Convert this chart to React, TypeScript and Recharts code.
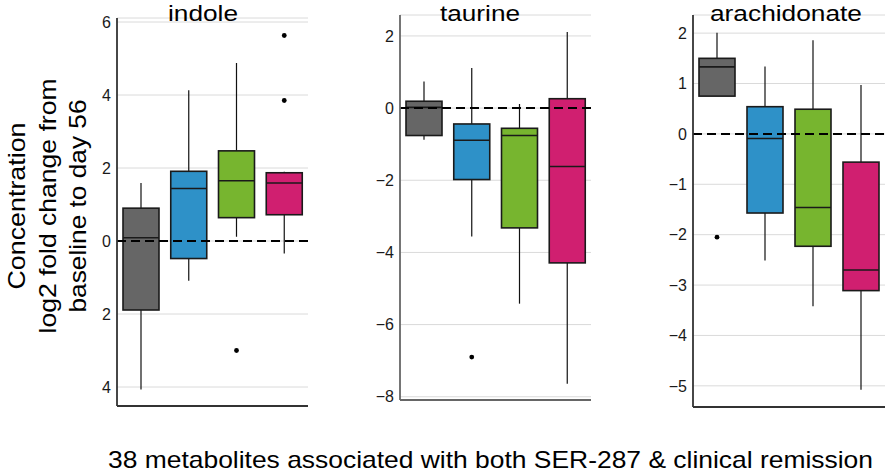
import React from 'react';
import { ComposedChart, Bar, XAxis, YAxis, CartesianGrid, ReferenceLine } from 'recharts';

const groups = ['A', 'B', 'C', 'D'];
const groupColors = ['#666666', '#2e91c8', '#77b52f', '#d01f70'];

// indole
const indoleLow = [-4.07, -1.09, 0.12, -0.34];
const indoleQ1 = [-1.89, -0.48, 0.64, 0.72];
const indoleMed = [0.09, 1.44, 1.65, 1.59];
const indoleQ3 = [0.9, 1.91, 2.47, 1.87];
const indoleHigh = [1.59, 4.13, 4.88, 1.9];
const indoleOut = [[], [], [-3.0], [5.63, 3.85]];
const indoleTicks = [-4, -2, 0, 2, 4, 6];

// taurine
const taurineLow = [-0.88, -3.56, -5.42, -7.64];
const taurineQ1 = [-0.76, -1.98, -3.32, -4.29];
const taurineMed = [0.02, -0.89, -0.76, -1.62];
const taurineQ3 = [0.19, -0.44, -0.56, 0.26];
const taurineHigh = [0.74, 1.11, 0.11, 2.11];
const taurineOut = [[], [-6.9], [], []];
const taurineTicks = [-8, -6, -4, -2, 0, 2];

// arachidonate
const arachLow = [0.75, -2.51, -3.42, -5.08];
const arachQ1 = [0.75, -1.57, -2.23, -3.11];
const arachMed = [1.33, -0.09, -1.46, -2.7];
const arachQ3 = [1.5, 0.54, 0.49, -0.56];
const arachHigh = [2.01, 1.34, 1.86, 0.97];
const arachOut = [[-2.05], [], [], []];
const arachTicks = [-5, -4, -3, -2, -1, 0, 1, 2];

const font = '"Liberation Sans", Arial, sans-serif';

const buildRows = (low: number[], q1: number[], med: number[], q3: number[], high: number[], out: number[][]) =>
    groups.map((g, i) => ({
        group: g,
        box: [q1[i], q3[i]],
        low: low[i],
        q1: q1[i],
        med: med[i],
        q3: q3[i],
        high: high[i],
        out: out[i],
        color: groupColors[i],
    }));

const minusFmt = (v: number) => (v < 0 ? '\u2212' + Math.abs(v) : String(v));
const absFmt = (v: number) => String(Math.abs(v));

// box + whiskers + median + outliers, scaled from the bar geometry
const BoxShape = (props: any) => {
    const { x, y, width, height, payload } = props;
    const { low, q1, med, q3, high, out, color } = payload;
    const top = Math.min(y, y + height);
    const h = Math.abs(height);
    const k = h / (q3 - q1);
    const py = (v: number) => top + (q3 - v) * k;
    const cx = x + width / 2;
    return (
        <g>
            <line x1={cx} x2={cx} y1={py(high)} y2={py(q3)} stroke="#111" strokeWidth={1.2} />
            <line x1={cx} x2={cx} y1={py(q1)} y2={py(low)} stroke="#111" strokeWidth={1.2} />
            <rect x={x} y={top} width={width} height={h} fill={color} stroke="#1a1a1a" strokeWidth={1.6} />
            <line x1={x} x2={x + width} y1={py(med)} y2={py(med)} stroke="#1a1a1a" strokeWidth={1.6} />
            {out.map((v: number, i: number) => (
                <circle key={i} cx={cx} cy={py(v)} r={2.4} fill="#000" />
            ))}
        </g>
    );
};

interface PanelProps {
    data: any[];
    ticks: number[];
    domain: [number, number];
    fmt: (v: number) => string;
    plotLeft: number;
    plotRight: number;
    top: number;
    bottom: number;
    axisColor: string;
}

const Y_W = 40;

const Panel: React.FC<PanelProps> = ({ data, ticks, domain, fmt, plotLeft, plotRight, top, bottom, axisColor }) => {
    const w = plotRight - plotLeft + Y_W + 4;
    const h = bottom + 1 + 14;
    return (
        <div style={{ position: 'absolute', left: plotLeft - Y_W, top: 0 }}>
            <ComposedChart width={w} height={h} data={data} margin={{ top, right: 4, left: 0, bottom: 14 }}>
                <CartesianGrid vertical={false} stroke="#dadada" strokeWidth={1} />
                <XAxis
                    dataKey="group"
                    type="category"
                    tick={false}
                    tickLine={false}
                    height={1}
                    axisLine={{ stroke: axisColor, strokeWidth: 1.8 }}
                />
                <YAxis
                    type="number"
                    domain={domain}
                    ticks={ticks}
                    interval={0}
                    allowDataOverflow
                    width={Y_W}
                    tickLine={false}
                    tickSize={4}
                    tickMargin={2}
                    tickFormatter={fmt}
                    tick={{ fill: '#1a1a1a', fontSize: 16, fontFamily: font }}
                    axisLine={{ stroke: axisColor, strokeWidth: 1.8 }}
                />
                <Bar dataKey="box" barSize={36} shape={<BoxShape />} isAnimationActive={false} />
                <ReferenceLine y={0} stroke="#000" strokeWidth={2} strokeDasharray="9 5" />
            </ComposedChart>
        </div>
    );
};

const App: React.FC = () => {
    return (
        <div style={{ position: 'absolute', left: 0, top: 0, width: 889, height: 476, background: '#fff', fontFamily: font }}>
            <Panel
                data={buildRows(indoleLow, indoleQ1, indoleMed, indoleQ3, indoleHigh, indoleOut)}
                ticks={indoleTicks}
                domain={[-4.52, 6.11]}
                fmt={absFmt}
                plotLeft={117}
                plotRight={308}
                top={18}
                bottom={406}
                axisColor="#333"
            />
            <Panel
                data={buildRows(taurineLow, taurineQ1, taurineMed, taurineQ3, taurineHigh, taurineOut)}
                ticks={taurineTicks}
                domain={[-8.09, 2.58]}
                fmt={minusFmt}
                plotLeft={400}
                plotRight={591}
                top={15}
                bottom={400}
                axisColor="#666"
            />
            <Panel
                data={buildRows(arachLow, arachQ1, arachMed, arachQ3, arachHigh, arachOut)}
                ticks={arachTicks}
                domain={[-5.42, 2.36]}
                fmt={minusFmt}
                plotLeft={693}
                plotRight={885}
                top={15}
                bottom={407}
                axisColor="#333"
            />
            <svg width={889} height={476} style={{ position: 'absolute', left: 0, top: 0, pointerEvents: 'none' }}>
                <g fontFamily={font} fill="#000" fontSize={24}>
                    <text x={203} y={21} fontSize={22} textAnchor="middle" textLength={70} lengthAdjust="spacingAndGlyphs">indole</text>
                    <text x={480} y={21} fontSize={22} textAnchor="middle" textLength={80} lengthAdjust="spacingAndGlyphs">taurine</text>
                    <text x={786} y={21} fontSize={22} textAnchor="middle" textLength={152} lengthAdjust="spacingAndGlyphs">arachidonate</text>
                    <text transform="translate(25,206) rotate(-90)" textAnchor="middle" textLength={167} lengthAdjust="spacingAndGlyphs">Concentration</text>
                    <text transform="translate(55.5,206) rotate(-90)" textAnchor="middle" textLength={255} lengthAdjust="spacingAndGlyphs">log2 fold change from</text>
                    <text transform="translate(86,206) rotate(-90)" textAnchor="middle" textLength={213} lengthAdjust="spacingAndGlyphs">baseline to day 56</text>
                    <text x={108} y={468} textLength={765} lengthAdjust="spacingAndGlyphs">38 metabolites associated with both SER-287 &amp; clinical remission</text>
                </g>
            </svg>
        </div>
    );
};

export default App;
